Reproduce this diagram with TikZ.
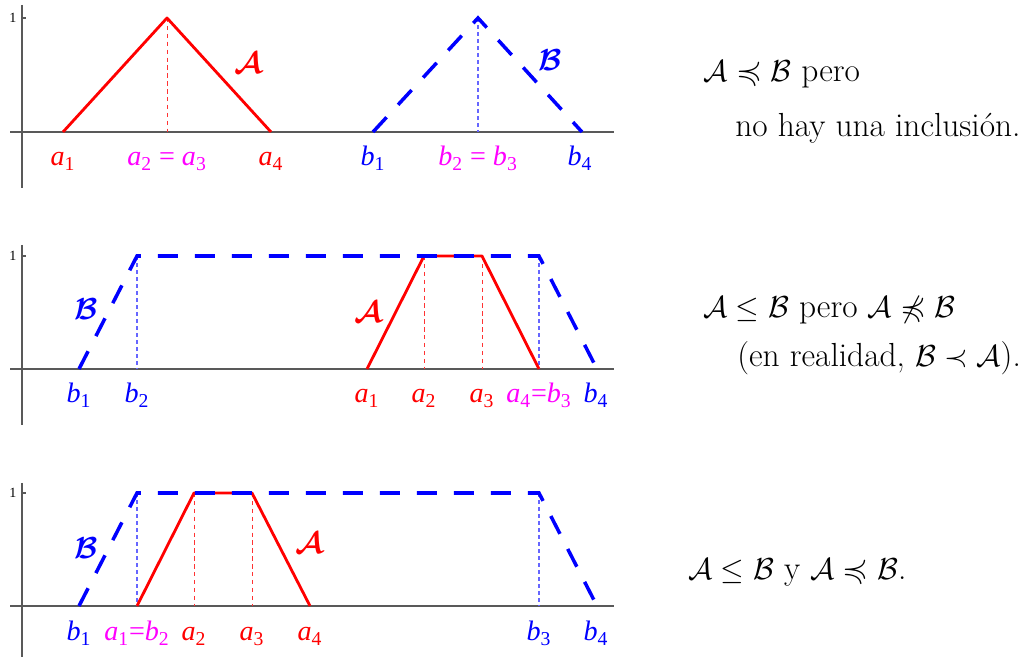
\documentclass[tikz,border=0pt]{standalone}
\usepackage{amsmath,amssymb,bm}
\usepackage{fontspec}
\newfontfamily\plotfont{Liberation Serif}
\usetikzlibrary{positioning,calc}

\definecolor{pinkish}{rgb}{1,0,1}
\newcommand{\plab}[2]{\textit{#1}\textsubscript{#2}}

\tikzset{
  axis/.style={black!65, line width=0.6pt},
  fnA/.style={red, line width=1.6pt, line join=round},
  fnB/.style={blue, line width=2pt, dash pattern=on 0.4cm off 0.34cm},
  guideA/.style={red!80, line width=0.5pt, dash pattern=on 2.5pt off 2pt},
  guideB/.style={blue!60, line width=0.6pt, dash pattern=on 2pt off 2pt},
  lab/.style={anchor=base, font=\plotfont\fontsize{16}{18}\selectfont},
  tick/.style={font=\plotfont\fontsize{8}{9}\selectfont},
  setname/.style={font=\fontsize{16}{18}\selectfont},
  remark/.style={anchor=base west, inner sep=0pt, font=\fontsize{19}{22}\selectfont},
}

\begin{document}
\begin{tikzpicture}[x=0.02cm, y=-0.02cm]
    \useasboundingbox (0,0) rectangle (1029,658);

    % Panel 1: triangular numbers
    \draw[axis] (22,5) -- (22,188);
    \draw[axis] (10,132) -- (614,132);
    \draw[axis] (22,18) -- (26,18);
    \node[tick] (one1) at (13,18) {1};
    \draw[guideA] (167,18) -- (167,132);
    \draw[guideB] (478,18) -- (478,132);
    \draw[fnA] (63,132) -- (167,18) -- (271,132);
    \draw[fnB] (373,132) -- (478,18) -- (582,132);
    \node[setname, red] (setA1) at (248,63) {$\bm{\mathcal{A}}$};
    \node[setname, blue] (setB1) at (550,60) {$\bm{\mathcal{B}}$};
    \node[lab, red] (a1p1) at (63,166) {\plab{a}{1}};
    \node[lab, pinkish] (a23p1) at (167,166) {\plab{a}{2} = \plab{a}{3}};
    \node[lab, red] (a4p1) at (271,166) {\plab{a}{4}};
    \node[lab, blue] (b1p1) at (373,166) {\plab{b}{1}};
    \node[lab, pinkish] (b23p1) at (478,166) {\plab{b}{2} = \plab{b}{3}};
    \node[lab, blue] (b4p1) at (580,166) {\plab{b}{4}};
    \node[remark] (rem1a) at (703,82) {$\mathcal{A}\preccurlyeq\mathcal{B}$ pero};
    \node[remark] (rem1b) at (735,137) {no hay una inclusión.};

    % Panel 2: A inside the plateau of B
    \draw[axis] (22,245) -- (22,425);
    \draw[axis] (10,369) -- (614,369);
    \draw[axis] (22,256) -- (26,256);
    \node[tick] (one2) at (13,256) {1};
    \draw[guideB] (137,256) -- (137,369);
    \draw[guideA] (424,256) -- (424,369);
    \draw[guideA] (482,256) -- (482,369);
    \draw[guideB] (539,256) -- (539,369);
    \draw[fnA] (367,369) -- (424,256) -- (482,256) -- (539,369);
    \draw[fnB] (79,369) -- (137,256) -- (539,256) -- (597,369);
    \node[setname, blue] (setB2) at (86,309) {$\bm{\mathcal{B}}$};
    \node[setname, red] (setA2) at (368,312) {$\bm{\mathcal{A}}$};
    \node[lab, blue] (b1p2) at (79,403) {\plab{b}{1}};
    \node[lab, blue] (b2p2) at (137,403) {\plab{b}{2}};
    \node[lab, red] (a1p2) at (367,403) {\plab{a}{1}};
    \node[lab, red] (a2p2) at (424,403) {\plab{a}{2}};
    \node[lab, red] (a3p2) at (482,403) {\plab{a}{3}};
    \node[lab, pinkish] (a4b3p2) at (539,403) {\plab{a}{4}=\plab{b}{3}};
    \node[lab, blue] (b4p2) at (596,403) {\plab{b}{4}};
    \node[remark] (rem2a) at (703,318) {$\mathcal{A}\le\mathcal{B}$ pero $\mathcal{A}\not\preccurlyeq\mathcal{B}$};
    \node[remark] (rem2b) at (737,367) {(en realidad, $\mathcal{B}\prec\mathcal{A}$).};

    % Panel 3: A starts where B reaches 1
    \draw[axis] (22,483) -- (22,657);
    \draw[axis] (10,606) -- (614,606);
    \draw[axis] (22,493) -- (26,493);
    \node[tick] (one3) at (13,493) {1};
    \draw[guideB] (137,493) -- (137,606);
    \draw[guideA] (194,493) -- (194,606);
    \draw[guideA] (252,493) -- (252,606);
    \draw[guideB] (539,493) -- (539,606);
    \draw[fnA] (137,606) -- (194,493) -- (252,493) -- (310,606);
    \draw[fnB] (79,606) -- (137,493) -- (539,493) -- (597,606);
    \node[setname, blue] (setB3) at (86,548) {$\bm{\mathcal{B}}$};
    \node[setname, red] (setA3) at (309,543) {$\bm{\mathcal{A}}$};
    \node[lab, blue] (b1p3) at (79,641) {\plab{b}{1}};
    \node[lab, pinkish] (a1b2p3) at (137,641) {\plab{a}{1}=\plab{b}{2}};
    \node[lab, red] (a2p3) at (194,641) {\plab{a}{2}};
    \node[lab, red] (a3p3) at (252,641) {\plab{a}{3}};
    \node[lab, red] (a4p3) at (310,641) {\plab{a}{4}};
    \node[lab, blue] (b3p3) at (539,641) {\plab{b}{3}};
    \node[lab, blue] (b4p3) at (596,641) {\plab{b}{4}};
    \node[remark] (rem3) at (688,580) {$\mathcal{A}\le\mathcal{B}$ y $\mathcal{A}\preccurlyeq\mathcal{B}$.};
\end{tikzpicture}
\end{document}
